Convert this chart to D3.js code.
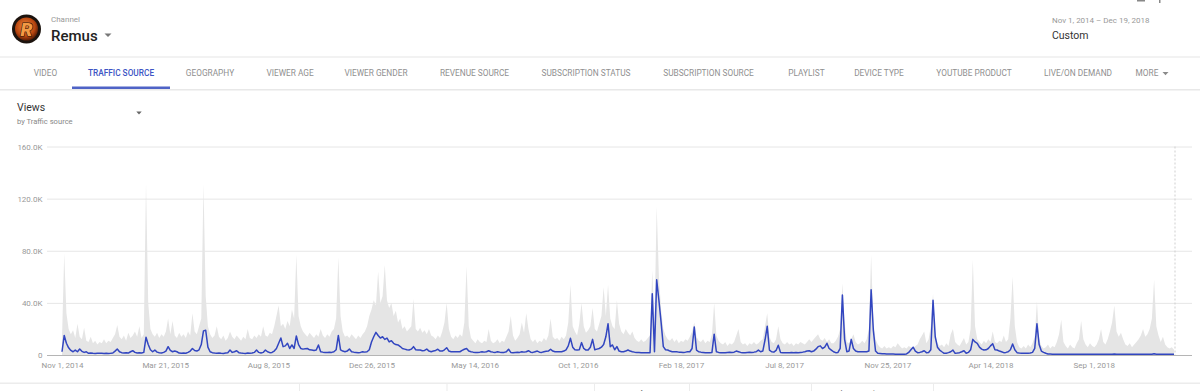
<!DOCTYPE html>
<html><head><meta charset="utf-8">
<script src="https://cdn.jsdelivr.net/npm/d3@7"></script>
<style>
html,body{margin:0;padding:0;background:#fff;overflow:hidden;}
svg{display:block;font-family:Roboto,"Noto Sans",Arial,sans-serif;}
</style></head><body>
<svg id="c" width="1200" height="391"></svg>
<script>
// ---------- DATA ----------
const channelName = "Remus";
const dateRangeText = "Nov 1, 2014 – Dec 19, 2018";
const startDate = "2014-11-01";
const endDate = "2018-12-19";
const stepDays = 3;
const tabLabels = ["VIDEO","TRAFFIC SOURCE","GEOGRAPHY","VIEWER AGE","VIEWER GENDER","REVENUE SOURCE","SUBSCRIPTION STATUS","SUBSCRIPTION SOURCE","PLAYLIST","DEVICE TYPE","YOUTUBE PRODUCT","LIVE/ON DEMAND","MORE"];
const activeTab = "TRAFFIC SOURCE";
const xTickDates = ["2014-11-01","2015-03-21","2015-08-08","2015-12-26","2016-05-14","2016-10-01","2017-02-18","2017-07-08","2017-11-25","2018-04-14","2018-09-01"];
const xTickLabels = ["Nov 1, 2014","Mar 21, 2015","Aug 8, 2015","Dec 26, 2015","May 14, 2016","Oct 1, 2016","Feb 18, 2017","Jul 8, 2017","Nov 25, 2017","Apr 14, 2018","Sep 1, 2018"];
const yTickValues = [0,40,80,120,160];           // thousands of views
const yTickLabels = ["0","40.0K","80.0K","120.0K","160.0K"];
const bottomLabels = ["Average","Impressions"];

// Total views (grey area), thousands, one value every 3 days from Nov 1, 2014
const totalViews = [
12,78,32,20,16,19,13,24,14,12,21,11,10,14,9,11,8,10,9,12,
9,11,10,13,16,23,14,12,15,11,17,13,15,18,14,22,13,16,132,40,
20,16,14,17,13,16,14,18,28,16,26,15,13,17,14,16,13,18,15,32,
18,16,22,28,131,45,22,16,13,15,22,14,12,15,11,13,18,14,12,15,
13,11,14,12,20,13,12,15,13,16,14,22,15,14,17,16,22,30,38,22,
24,20,26,22,35,28,77,30,22,18,16,14,17,15,13,16,14,20,15,13,
16,14,18,20,28,75,30,18,14,15,13,16,14,12,15,13,16,18,22,30,
35,42,38,64,40,45,69,42,36,40,30,34,25,28,20,22,18,20,22,43,
20,18,21,17,19,16,20,15,14,12,15,13,18,25,40,20,14,12,15,13,
16,14,25,68,22,13,11,9,12,10,9,11,10,20,11,9,10,12,9,11,
10,14,18,30,15,11,13,16,25,17,32,20,12,10,12,9,11,10,13,11,
15,28,14,12,13,11,14,12,15,25,54,22,18,15,24,40,22,17,19,22,
36,20,18,24,30,52,30,54,28,22,20,42,24,18,16,20,17,15,18,13,
11,10,12,10,11,13,15,65,25,114,60,35,20,15,12,11,13,10,12,9,
11,10,12,11,14,18,25,14,11,10,12,9,11,10,16,40,15,11,9,8,
10,7,9,8,10,15,20,10,8,9,7,9,8,10,8,9,11,12,22,32,
14,10,9,12,22,12,9,8,10,8,9,7,9,8,10,9,8,10,12,10,
12,14,16,12,11,13,10,12,9,9,11,14,20,55,25,10,9,12,16,10,
8,9,11,9,12,20,77,25,12,8,6,5,7,5,6,5,7,6,9,7,
5,6,5,7,6,5,7,8,12,15,18,9,12,22,47,15,9,7,8,6,
9,7,16,20,10,8,7,10,13,8,10,20,73,22,12,10,8,11,9,12,
10,18,10,9,11,10,15,10,12,28,60,22,10,6,5,7,5,8,6,9,
14,41,12,7,5,6,8,5,7,6,10,16,27,10,7,5,8,6,5,9,
12,26,12,8,6,9,7,6,8,12,20,10,8,12,18,25,38,18,14,17,
12,8,7,9,6,8,10,12,15,20,14,16,20,28,58,22,15,10,14,8,
6,5,6,4];

// Selected traffic source (blue line), thousands, same dates
const sourceViews = [
2.5,15,9,5.5,3.5,2.5,3.8,2.5,4.6,2.8,2,2.5,1.3,1.5,1.3,1.2,1.3,1.4,1.3,1.2,
1.3,1.2,1.3,1.5,3,4.6,2.5,1.8,1.5,1.8,1.5,2.5,3.3,2,1.5,1.8,1.5,2,13.6,8,
4,2.5,3.8,2.2,1.8,1.5,2,3,6.4,3.5,2.5,3,2.5,1.5,1.3,1.5,1.3,2,3,5,
3.5,3,4,8,18.5,19,6,2.5,1.8,1.5,1.3,1.5,1.3,1.2,1.5,1.8,3.8,2,2.5,3.3,
1.8,1.5,1.3,1.2,1.5,1.3,1.5,2,3.8,2,1.5,2,3.8,2.5,1.8,2,3,5,9,13,
6.4,7,9,5,7.7,5,14.6,8,5,4.5,4.8,5,4,3.8,3.5,3.8,7.7,2.5,2.2,2,
2,2.2,2,2.5,4,15,4,3,2.5,3,4.6,2.5,2.2,2,1.8,2,2.5,2.2,2.5,4,
10,14,17.4,15,13,14,12,13,10,11,9,8,7.7,6.5,5,4.5,4,3.8,4.5,6.4,
4,3.8,3.8,3.2,3.5,4.6,3,2.5,3,3.5,4.4,3,3,4,5.6,3,2.5,2.5,2.5,2.5,
2.5,3.5,4.4,5,3,2.5,2.2,2,2,2.2,2.5,2.2,2.5,3.3,2.5,2.2,2,2.5,2.2,2,
2,2.5,4.4,2,1.8,2,2.2,2,2.5,2.2,2.5,3.3,2.2,2,2.5,3,2.2,2,2.5,2.8,
3,4.4,3,2.5,2.5,2.5,2.5,3,4,7,12.8,6,4,3.8,4,9.5,5,3.8,3.8,6,
12,4,4.5,5,6,8,14,24,6.4,7.7,4,6.4,3,2.5,2.5,3,3.8,3,2.5,2.2,
2,2,1.8,1.8,1.8,1.8,1.8,47,2.5,57.7,42,25,6.4,4,3.8,3,2.5,2.5,2.5,2.2,
2.2,2,2.2,2.5,2.5,5,21.5,3.8,2.5,2.2,2,1.8,1.8,1.8,2,16,2.5,2,1.8,1.8,
1.8,2,2.2,2,2.2,3,2.5,2,1.8,1.8,2,2.2,2,2.2,2.5,3.8,2.5,3,11.5,22,
3.8,2.5,2.2,3.5,7.5,2,1.8,1.8,1.8,1.8,2,1.8,2,1.8,2,2.2,2.5,3,3.3,2.5,
3,4.5,6.4,7,5,6,9,5,3.8,2.5,1.8,2,5,46,12,2.5,3,12,5,3,
2.5,2.5,2.5,2.5,2.5,3,50,19,3,1.3,1.2,1,1,0.8,0.8,0.8,0.7,0.6,0.5,0.5,
0.5,0.6,0.8,2,4,6,3,1.8,2,2.5,3.3,1.8,2,4,42,14,6,3.8,2.5,1.3,
1.3,1.8,2.5,3.8,1.3,1.5,1.8,2.5,3.3,1.3,2,4,12,10,9,6,4.5,3.8,4,5,
7,8.7,4,3.8,3,2.5,1.8,2,2.5,4,8.5,4,1.8,1.5,1.4,1.3,1.3,1.3,1.5,2,
5,24,8,3,2,1.3,0.8,0.7,0.6,0.5,0.5,0.5,0.5,0.5,0.5,0.5,0.5,0.5,0.5,0.5,
0.5,0.5,0.5,0.5,0.5,0.5,0.5,0.5,0.5,0.5,0.5,0.5,0.5,0.5,0.5,0.6,0.8,0.6,0.5,0.5,
0.5,0.5,0.5,0.5,0.5,0.5,0.5,0.5,0.5,0.5,0.5,0.5,0.5,0.6,1,0.6,0.5,0.5,0.5,0.5,
0.5,0.5,0.5,0.5];

// ---------- LAYOUT ----------
const tabCenters = [45.5,121,210,290,376,474.5,586,708.5,806.5,879,974,1078,1147];
const bottomLabelCenters = [655,865];
const bottomDividers = [299,446.5,594,689,811,933];

const svg = d3.select("#c");
const parse = d3.utcParse("%Y-%m-%d");
const t0 = parse(startDate), t1 = parse(endDate);
const dates = totalViews.map((_, i) => d3.utcDay.offset(t0, i * stepDays));

const x = d3.scaleUtc().domain([t0, t1]).range([62, 1174]);
const y = d3.scaleLinear().domain([0, 160]).range([355, 146.5]);

// ---------- HEADER ----------
const defs = svg.append("defs");
const rg = defs.append("radialGradient").attr("id","lg").attr("cx","45%").attr("cy","40%").attr("r","60%");
rg.append("stop").attr("offset","0%").attr("stop-color","#f08a3c");
rg.append("stop").attr("offset","70%").attr("stop-color","#b8450f");
rg.append("stop").attr("offset","100%").attr("stop-color","#5a1d06");
svg.append("circle").attr("cx",26.5).attr("cy",29).attr("r",14.5).attr("fill","#1c130e");
svg.append("circle").attr("cx",26.5).attr("cy",29).attr("r",11.5).attr("fill","url(#lg)");
svg.append("text").attr("x",26.5).attr("y",36).attr("text-anchor","middle")
  .attr("font-size",19).attr("font-weight",900).attr("font-style","italic")
  .attr("fill","#f39a44").attr("stroke","#2a1206").attr("stroke-width",1.2)
  .attr("paint-order","stroke").text("R");

svg.append("text").attr("x",51).attr("y",22).attr("font-size",8).attr("fill","#999").text("Channel");
svg.append("text").attr("x",51).attr("y",40.5).attr("font-size",15).attr("font-weight",500).attr("fill","#222").text(channelName);
svg.append("path").attr("d","M104.5,33.5 L111.5,33.5 L108,37 Z").attr("fill","#777");

svg.append("text").attr("x",1052).attr("y",23).attr("font-size",8).attr("fill","#999").text(dateRangeText);
svg.append("text").attr("x",1052).attr("y",39).attr("font-size",10.5).attr("fill","#333").text("Custom");
svg.append("rect").attr("x",1137).attr("y",0).attr("width",8).attr("height",1.5).attr("fill","#888");
svg.append("rect").attr("x",1159).attr("y",0).attr("width",1.5).attr("height",3).attr("fill","#888");

svg.append("rect").attr("x",0).attr("y",56.5).attr("width",1200).attr("height",1).attr("fill","#e6e6e6");

// ---------- TABS ----------
svg.append("g").selectAll("text").data(tabLabels).join("text")
  .attr("x",(d,i)=>tabCenters[i]).attr("y",76).attr("text-anchor","middle")
  .attr("font-size",8.3).attr("font-weight",d=>d===activeTab?500:400)
  .attr("fill",d=>d===activeTab?"#3d55c4":"#8f8f8f").text(d=>d);
svg.append("path").attr("d","M1162.5,72 L1168.5,72 L1165.5,75.2 Z").attr("fill","#8a8a8a");
svg.append("rect").attr("x",0).attr("y",89).attr("width",1200).attr("height",1.5).attr("fill","#e8e8e8");
svg.append("rect").attr("x",72).attr("y",86.5).attr("width",98).attr("height",2.5).attr("fill","#4f63c6");

// ---------- CHART TITLE ----------
svg.append("text").attr("x",17).attr("y",111).attr("font-size",10.5).attr("fill","#333").text("Views");
svg.append("text").attr("x",17).attr("y",123.5).attr("font-size",7.6).attr("fill","#888").text("by Traffic source");
svg.append("path").attr("d","M136.3,111.6 L141.7,111.6 L139,114.4 Z").attr("fill","#666");

// ---------- AXES ----------
const yAxis = svg.append("g").attr("transform","translate(47,0)")
  .call(d3.axisLeft(y).tickValues(yTickValues).tickFormat((d,i)=>yTickLabels[i])
    .tickSize(-(1192-47)).tickPadding(4.5));
yAxis.select(".domain").remove();
yAxis.selectAll("line").attr("stroke",d=>d===0?"#b5b5b5":"#e6e6e6").attr("stroke-width",1);
yAxis.selectAll("text").attr("font-size",8).attr("fill","#999").attr("font-family","Roboto, sans-serif");

// dashed end line
svg.append("line").attr("x1",x(t1)+1).attr("x2",x(t1)+1).attr("y1",y(160)).attr("y2",y(0))
  .attr("stroke","#cfcfcf").attr("stroke-dasharray","2,2");

// ---------- SERIES ----------
const area = d3.area().x((d,i)=>x(dates[i])).y0(y(0)).y1(d=>y(d));
svg.append("path").datum(totalViews).attr("d",area).attr("fill","#e5e5e5");

// redraw baseline over area
svg.append("line").attr("x1",47).attr("x2",1192).attr("y1",y(0)+0.5).attr("y2",y(0)+0.5).attr("stroke","#b5b5b5");

const line = d3.line().x((d,i)=>x(dates[i])).y(d=>y(d));
svg.append("path").datum(sourceViews).attr("d",line).attr("fill","none")
  .attr("stroke","#3246c0").attr("stroke-width",1.5).attr("stroke-linejoin","round");

const xAxis = svg.append("g").attr("transform",`translate(0,${y(0)})`)
  .call(d3.axisBottom(x).tickValues(xTickDates.map(parse)).tickFormat((d,i)=>xTickLabels[i])
    .tickSize(0).tickPadding(7));
xAxis.select(".domain").remove();
xAxis.selectAll("text").attr("font-size",8).attr("fill","#999").attr("font-family","Roboto, sans-serif");

// ---------- BOTTOM STRIP ----------
svg.append("rect").attr("x",0).attr("y",382.5).attr("width",1200).attr("height",1.5).attr("fill","#ececec");
svg.append("g").selectAll("rect").data(bottomDividers).join("rect")
  .attr("x",d=>d).attr("y",384).attr("width",1).attr("height",8).attr("fill","#ececec");
svg.append("g").selectAll("text").data(bottomLabels).join("text")
  .attr("x",(d,i)=>bottomLabelCenters[i]).attr("y",396.5).attr("text-anchor","middle")
  .attr("font-size",9).attr("fill","#777").text(d=>d);
</script>
</body></html>
